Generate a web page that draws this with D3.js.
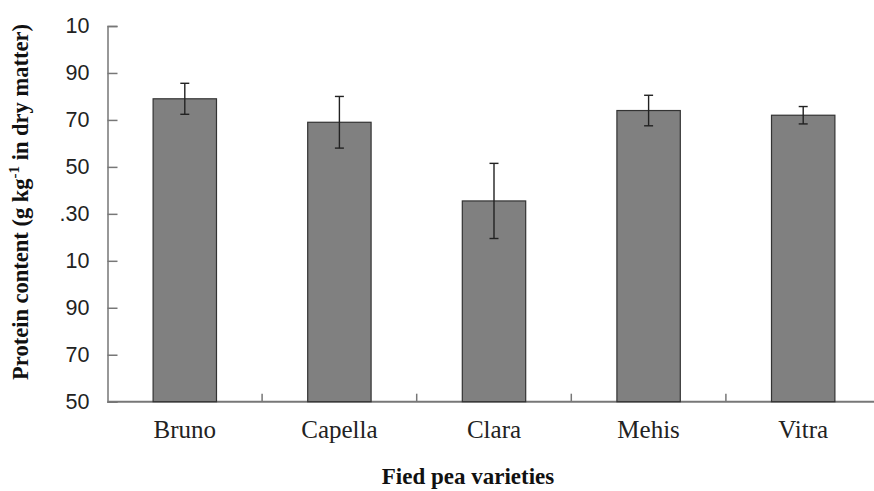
<!DOCTYPE html>
<html>
<head>
<meta charset="utf-8">
<script src="https://cdn.jsdelivr.net/npm/d3@7"></script>
<style>
  body { margin: 0; background: #fff; }
  svg { display: block; }
</style>
</head>
<body>
<div id="chart"></div>
<script>
// data
var varieties = ["Bruno", "Capella", "Clara", "Mehis", "Vitra"];
var protein = [179, 169, 135.5, 174, 172];
var errors = [6.6, 11, 16, 6.5, 3.7];
var yTicks = [50, 70, 90, 110, 130, 150, 170, 190, 210];
var yTickLabels = ["50", "70", "90", "10", ".30", "50", "70", "90", "10"];

var width = 874, height = 491;

var svg = d3.select("#chart")
    .append("svg")
    .attr("width", width)
    .attr("height", height);

// scales
var x = d3.scaleBand()
    .domain(varieties)
    .range([107.5, 880.5])
    .paddingInner(0.59)
    .paddingOuter(0.295);

var y = d3.scaleLinear()
    .domain([50, 210])
    .range([401.7, 26]);

// y axis, ticks pointing inside
var yAxis = svg.append("g")
    .attr("transform", "translate(107.5,0)")
    .call(d3.axisLeft(y)
        .tickValues(yTicks)
        .tickSize(-10)
        .tickPadding(18)
        .tickFormat((d, i) => yTickLabels[i]));
yAxis.select(".domain").attr("stroke", "#777").attr("stroke-width", 1.5);
yAxis.selectAll(".tick line").attr("stroke", "#777").attr("stroke-width", 1.5);
yAxis.selectAll(".tick text")
    .attr("font-family", "Liberation Sans, Arial, sans-serif")
    .attr("font-size", 21.5)
    .attr("fill", "#222");

// x axis line
svg.append("line")
    .attr("x1", 107.5).attr("x2", width)
    .attr("y1", y(50)).attr("y2", y(50))
    .attr("stroke", "#777").attr("stroke-width", 2);

// ticks between categories, pointing up
svg.append("g").selectAll("line")
    .data(varieties.slice(1))
    .join("line")
    .attr("x1", d => x(d) - x.step() * x.paddingInner() / 2)
    .attr("x2", d => x(d) - x.step() * x.paddingInner() / 2)
    .attr("y1", y(50))
    .attr("y2", y(50) - 8)
    .attr("stroke", "#777")
    .attr("stroke-width", 1.5);

// category labels
var xAxis = svg.append("g")
    .attr("transform", "translate(0," + y(50) + ")")
    .call(d3.axisBottom(x).tickSize(0).tickPadding(19));
xAxis.select(".domain").remove();
xAxis.selectAll(".tick text")
    .attr("font-family", "Liberation Serif, Times New Roman, serif")
    .attr("font-size", 25)
    .attr("fill", "#222");

// bars
svg.append("g").selectAll("rect")
    .data(varieties)
    .join("rect")
    .attr("x", d => x(d))
    .attr("width", x.bandwidth())
    .attr("y", (d, i) => y(protein[i]))
    .attr("height", (d, i) => y(50) - y(protein[i]))
    .attr("fill", "#808080")
    .attr("stroke", "#333")
    .attr("stroke-width", 1.2);

// error bars
var err = svg.append("g").selectAll("g")
    .data(varieties)
    .join("g")
    .attr("stroke", "#222")
    .attr("stroke-width", 1.4);
err.append("line")
    .attr("x1", d => x(d) + x.bandwidth() / 2)
    .attr("x2", d => x(d) + x.bandwidth() / 2)
    .attr("y1", (d, i) => y(protein[i] + errors[i]))
    .attr("y2", (d, i) => y(protein[i] - errors[i]));
err.append("line")
    .attr("x1", d => x(d) + x.bandwidth() / 2 - 4.5)
    .attr("x2", d => x(d) + x.bandwidth() / 2 + 4.5)
    .attr("y1", (d, i) => y(protein[i] + errors[i]))
    .attr("y2", (d, i) => y(protein[i] + errors[i]));
err.append("line")
    .attr("x1", d => x(d) + x.bandwidth() / 2 - 4.5)
    .attr("x2", d => x(d) + x.bandwidth() / 2 + 4.5)
    .attr("y1", (d, i) => y(protein[i] - errors[i]))
    .attr("y2", (d, i) => y(protein[i] - errors[i]));

// axis titles
svg.append("text")
    .attr("x", 468)
    .attr("y", 484)
    .attr("text-anchor", "middle")
    .attr("font-family", "Liberation Serif, Times New Roman, serif")
    .attr("font-weight", "bold")
    .attr("font-size", 23)
    .attr("fill", "#111")
    .text("Fied pea varieties");

var yTitle = svg.append("text")
    .attr("transform", "translate(28,202) rotate(-90)")
    .attr("text-anchor", "middle")
    .attr("font-family", "Liberation Serif, Times New Roman, serif")
    .attr("font-weight", "bold")
    .attr("font-size", 22.5)
    .attr("fill", "#111");
yTitle.append("tspan").text("Protein content (g kg");
yTitle.append("tspan").attr("dy", -9).attr("font-size", 15).text("-1");
yTitle.append("tspan").attr("dy", 9).text(" in dry matter)");
</script>
</body>
</html>
